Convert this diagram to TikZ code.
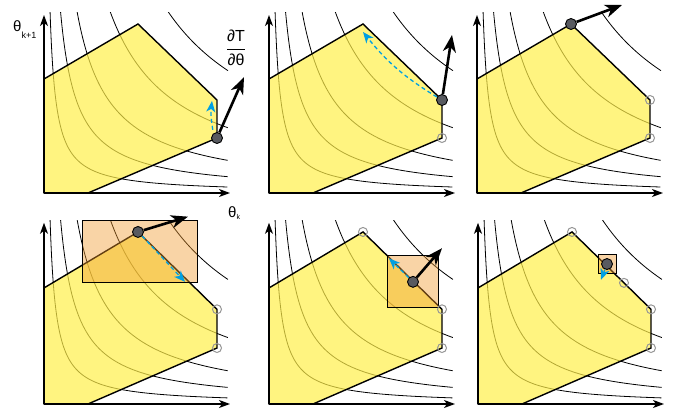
\documentclass[tikz,border=0pt]{standalone}
\usepackage{fontspec}
\setmainfont{Liberation Sans}
\usetikzlibrary{arrows.meta}
\definecolor{RegionYellow}{RGB}{255,239,74}
\definecolor{TrustOrange}{RGB}{240,152,43}
\definecolor{StepBlue}{RGB}{0,160,226}
\definecolor{IterGray}{RGB}{88,90,96}
\definecolor{OldGray}{RGB}{150,150,150}
\tikzset{
  contour/.style={draw=black,line width=0.8pt},
  region/.style={fill=RegionYellow,fill opacity=0.7},
  border/.style={draw=black,line width=1.4pt,line join=miter},
  axis/.style={draw=black,line width=1.3pt,-{Stealth[length=11pt,width=8pt,inset=3pt]}},
  trust/.style={fill=TrustOrange,fill opacity=0.42,draw=black,line width=1pt},
  grad/.style={draw=black,line width=2.6pt,-{Stealth[length=17pt,width=13pt,inset=5pt]}},
  stepline/.style={draw=StepBlue,line width=1.3pt,dash pattern=on 4pt off 3pt,-{Stealth[length=11pt,width=9pt,inset=3pt]}},
  iter/.style={circle,draw=black,fill=IterGray,line width=0.9pt,minimum size=11pt,inner sep=0pt},
  old/.style={circle,draw=OldGray,line width=1pt,minimum size=9pt,inner sep=0pt},
  lbl/.style={font=\fontsize{15}{16}\selectfont,inner sep=0pt},
}
\begin{document}
\begin{tikzpicture}[x=1pt,y=1pt]
\useasboundingbox (0,0) rectangle (683,420);
% same region and level curves in all six panels
\foreach \px/\py/\sy in {44/227/1,269/227/1,477/227/1,44/16/1.018,269/16/1.018,478/16/1.018}{
  \begin{scope}[shift={(\px,\py)},yscale=\sy]
    \begin{scope}
      \clip (0,0) rectangle (184,180);
      % level curves x*y = 100*\c
      \foreach \c in {11,30,60,120,225}
        \draw[contour] plot[domain=0:1,samples=70]
          ({\c/1.82*pow(184/(\c/1.82),\x)},{182*pow(184/(\c/1.82),-\x)});
    \end{scope}
    \fill[region] (0,0) -- (0,114) -- (94,169) -- (173,93) -- (173,55) -- (44,0) -- cycle;
    \draw[border] (0,0) -- (0,114) -- (94,169) -- (173,93) -- (173,55) -- (44,0) -- cycle;
    \draw[axis] (0,0) -- (0,178);
    \draw[axis] (0,0) -- (186,0);
  \end{scope}
}
% labels
\node[lbl,anchor=base west] (thnext) at (13,388) {θ\raisebox{-6.5pt}{\fontsize{9}{9}\selectfont k+1}};
\node[lbl,anchor=base west] (thk) at (228,202) {θ\raisebox{-2pt}{\fontsize{7}{7}\selectfont k}};
\node[lbl] (dTdth) at (236,372) {\fontsize{16}{18}\selectfont\(\displaystyle\frac{\mbox{∂T}}{\mbox{∂θ}}\)};
% panel 1
\begin{scope}[shift={(44,227)}]
  \node[iter] (it1) at (173,55) {};
  \coordinate (gr1) at (200,116);
  \coordinate (st1) at (168,92);
  \draw[grad] (it1) -- (gr1);
  \draw[stepline] ([yshift=4pt]it1.north west) to[bend left=8] (st1);
\end{scope}
% panel 2
\begin{scope}[shift={(269,227)}]
  \node[old] (vx2) at (173,55) {};
  \node[iter] (it2) at (173,93) {};
  \coordinate (gr2) at (183,158);
  \coordinate (st2) at (94,161);
  \draw[grad] (it2) -- (gr2);
  \draw[stepline] (it2) to[bend left=10] (st2);
\end{scope}
% panel 3
\begin{scope}[shift={(477,227)}]
  \node[old] (va3) at (173,93) {};
  \node[old] (vb3) at (173,55) {};
  \node[iter] (it3) at (94,169) {};
  \coordinate (gr3) at (145,188);
  \draw[grad] (it3) -- (gr3);
\end{scope}
% panel 4
\begin{scope}[shift={(44,16)},yscale=1.018]
  \draw[trust] (38,119) rectangle (153,180);
  \node[old] (va4) at (173,93) {};
  \node[old] (vb4) at (173,55) {};
  \node[iter] (it4) at (94,169) {};
  \coordinate (gr4) at (144,184);
  \coordinate (st4) at (141,120);
  \draw[grad] (it4) -- (gr4);
  \draw[stepline] (it4.south east) -- (st4);
\end{scope}
% panel 5
\begin{scope}[shift={(269,16)},yscale=1.018]
  \draw[trust] (118.5,94.5) rectangle (169.5,145.5);
  \node[old] (va5) at (94,169) {};
  \node[old] (vb5) at (173,93) {};
  \node[old] (vc5) at (173,55) {};
  \node[iter] (it5) at (144,120) {};
  \coordinate (gr5) at (173,153);
  \coordinate (st5) at (120,143);
  \draw[grad] (it5) -- (gr5);
  \draw[stepline] (it5) -- (st5);
\end{scope}
% panel 6
\begin{scope}[shift={(478,16)},yscale=1.018]
  \draw[trust] (120,128.5) rectangle (138,146.5);
  \node[old] (va6) at (94,169) {};
  \node[old] (vb6) at (146,119) {};
  \node[old] (vc6) at (173,93) {};
  \node[old] (vd6) at (173,55) {};
  \node[iter] (it6) at (129,137.5) {};
  \coordinate (st6) at (123,122);
  \draw[stepline] (it6) -- (st6);
\end{scope}
\end{tikzpicture}
\end{document}
